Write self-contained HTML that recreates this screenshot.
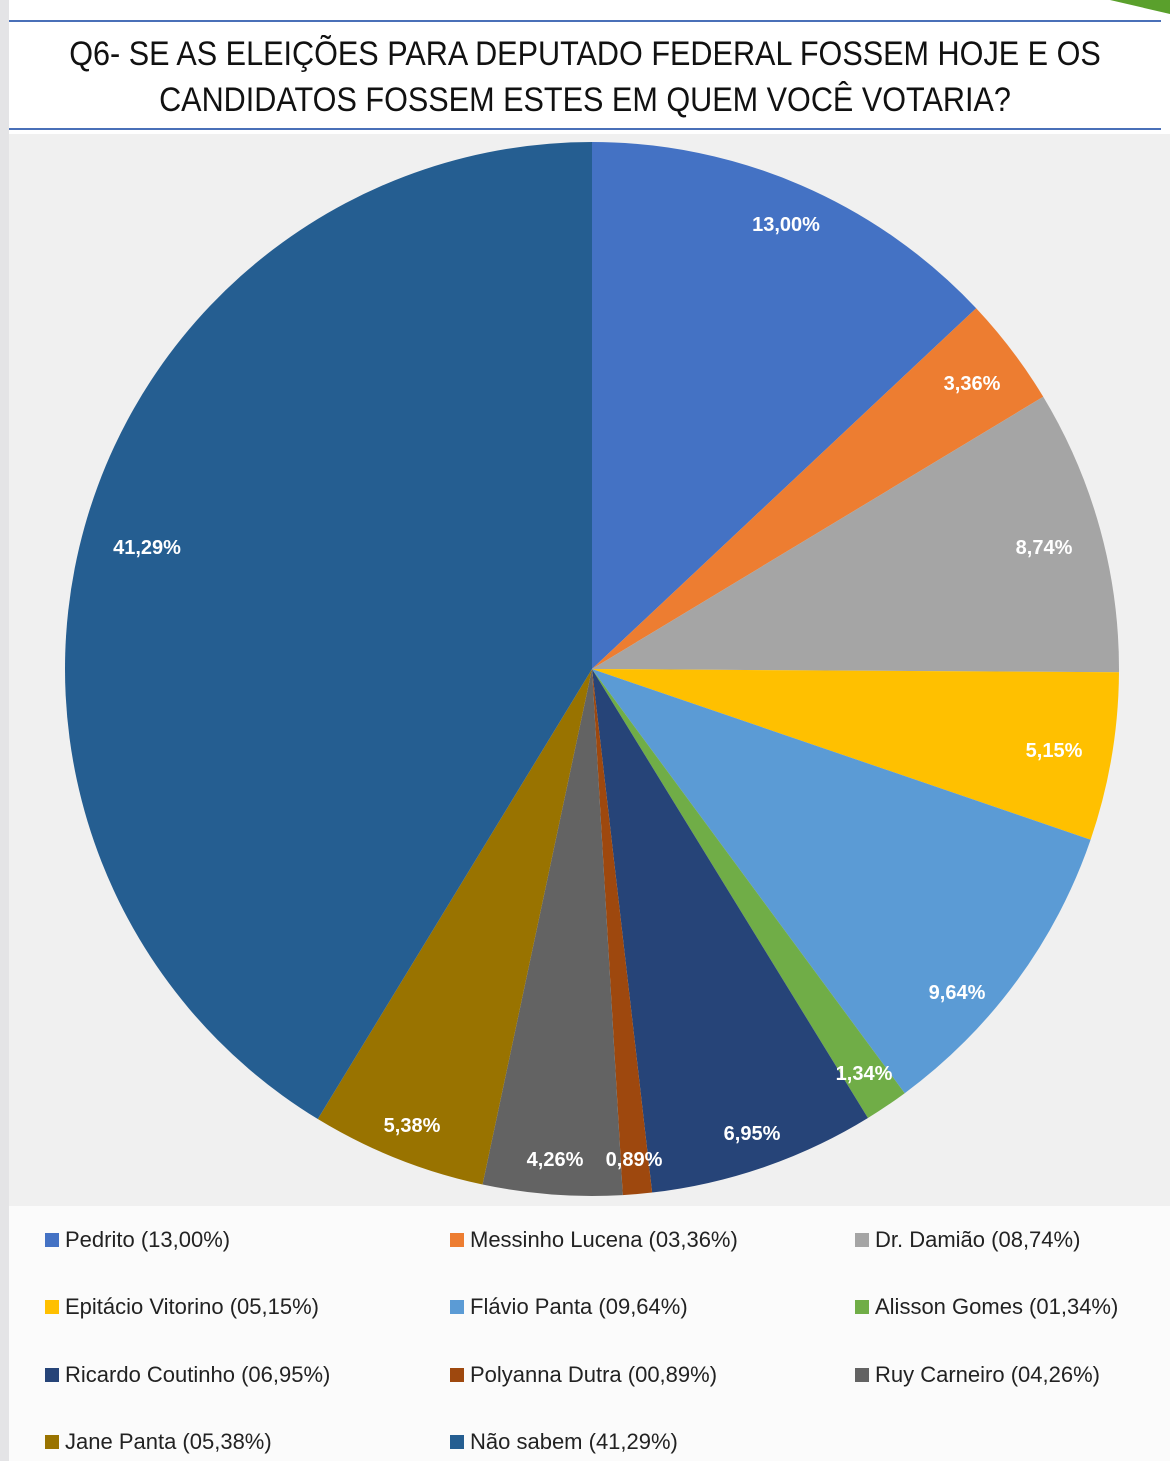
<!DOCTYPE html>
<html><head><meta charset="utf-8"><style>
body{margin:0;width:1170px;height:1461px;background:#fff;position:relative;overflow:hidden;font-family:"Liberation Sans",sans-serif}
.lb{position:absolute;left:0;top:0;width:9px;height:1461px;background:#e4e4e6}
.hdr{position:absolute;left:9px;top:20px;width:1152px;height:106px;border-top:2px solid #4a70b8;border-bottom:2px solid #4a70b8;background:#fff}
.t{position:absolute;left:0;width:1152px;text-align:center;font-size:34px;color:#111;transform:scaleX(0.9);transform-origin:center}
.pa{position:absolute;left:9px;top:134px;width:1161px;height:1072px;background:#f0f0f0}
.lg{position:absolute;left:9px;top:1206px;width:1161px;height:255px;background:#fbfbfb}
.li{position:absolute;font-size:22px;color:#222;line-height:26px}
.li i{display:inline-block;width:14px;height:14px;margin-right:6px;vertical-align:0px}
svg text{font-family:"Liberation Sans",sans-serif;font-weight:bold;font-size:20px;fill:#fff;text-anchor:middle}
</style></head><body>
<div class="lb"></div>
<svg style="position:absolute;left:1090px;top:0" width="80" height="14"><polygon points="20,0 80,0 80,14" fill="#5aa02c"/></svg>
<div class="hdr">
<div class="t" style="top:13px">Q6- SE AS ELEIÇÕES PARA DEPUTADO FEDERAL FOSSEM HOJE E OS</div>
<div class="t" style="top:59px">CANDIDATOS FOSSEM ESTES EM QUEM VOCÊ VOTARIA?</div>
</div>
<div class="pa"></div>
<svg id="pie" style="position:absolute;left:0;top:0" width="1170" height="1210">
<g id="sl"></g>
<text x="786" y="231">13,00%</text>
<text x="972" y="390">3,36%</text>
<text x="1044" y="554">8,74%</text>
<text x="1054" y="757">5,15%</text>
<text x="957" y="999">9,64%</text>
<text x="864" y="1080">1,34%</text>
<text x="752" y="1140">6,95%</text>
<text x="634" y="1166">0,89%</text>
<text x="555" y="1166">4,26%</text>
<text x="412" y="1132">5,38%</text>
<text x="147" y="554">41,29%</text>
</svg>
<div class="lg"></div>
<div class="li" style="left:45px;top:1227px"><i style="background:#4472c4"></i>Pedrito (13,00%)</div>
<div class="li" style="left:450px;top:1227px"><i style="background:#ed7d31"></i>Messinho Lucena (03,36%)</div>
<div class="li" style="left:855px;top:1227px"><i style="background:#a5a5a5"></i>Dr. Damião (08,74%)</div>
<div class="li" style="left:45px;top:1294px"><i style="background:#ffc000"></i>Epitácio Vitorino (05,15%)</div>
<div class="li" style="left:450px;top:1294px"><i style="background:#5b9bd5"></i>Flávio Panta (09,64%)</div>
<div class="li" style="left:855px;top:1294px"><i style="background:#70ad47"></i>Alisson Gomes (01,34%)</div>
<div class="li" style="left:45px;top:1362px"><i style="background:#264478"></i>Ricardo Coutinho (06,95%)</div>
<div class="li" style="left:450px;top:1362px"><i style="background:#9e480e"></i>Polyanna Dutra (00,89%)</div>
<div class="li" style="left:855px;top:1362px"><i style="background:#636363"></i>Ruy Carneiro (04,26%)</div>
<div class="li" style="left:45px;top:1429px"><i style="background:#997300"></i>Jane Panta (05,38%)</div>
<div class="li" style="left:450px;top:1429px"><i style="background:#255e91"></i>Não sabem (41,29%)</div>
<script>
var v=[13,3.36,8.74,5.15,9.64,1.34,6.95,0.89,4.26,5.38,41.29];
var c=["#4472c4","#ed7d31","#a5a5a5","#ffc000","#5b9bd5","#70ad47","#264478","#9e480e","#636363","#997300","#255e91"];
var cx=592,cy=669,r=527,a=0,h="";
for(var i=0;i<v.length;i++){var b=a+v[i]/100*2*Math.PI;
var x1=cx+r*Math.sin(a),y1=cy-r*Math.cos(a),x2=cx+r*Math.sin(b),y2=cy-r*Math.cos(b);
h+='<path d="M'+cx+','+cy+'L'+x1+','+y1+'A'+r+','+r+' 0 '+((b-a)>Math.PI?1:0)+' 1 '+x2+','+y2+'Z" fill="'+c[i]+'"/>';a=b;}
document.getElementById("sl").innerHTML=h;
</script>
</body></html>
